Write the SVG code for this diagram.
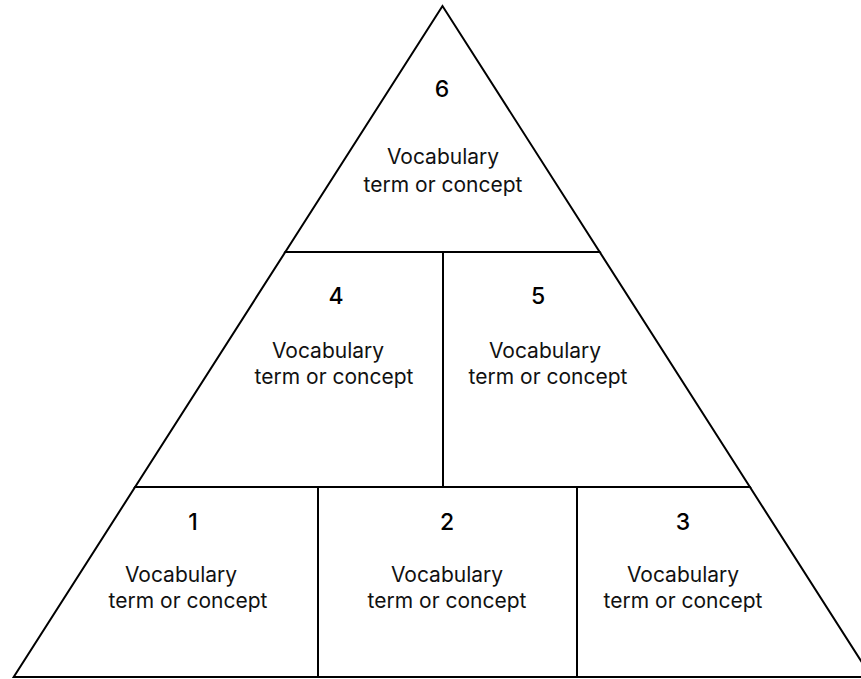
<svg xmlns="http://www.w3.org/2000/svg" width="861" height="679" viewBox="0 0 861 679">
<style>
.cell{fill:none;stroke:#000;stroke-width:2}
.num{font-family:Inter,"Liberation Sans",sans-serif;font-size:23px;font-weight:500;fill:#000;text-anchor:middle}
.lbl{font-family:Inter,"Liberation Sans",sans-serif;font-size:21px;font-weight:400;fill:#111;text-anchor:middle}
</style>
<rect width="861" height="679" fill="#fff"/>
<g id="node6">
<polygon class="cell" points="442.5,6 285.3,252 599.7,252"/>
<text class="num" x="442" y="97">6</text>
<text class="lbl" x="443" y="164">Vocabulary</text>
<text class="lbl" x="443" y="192">term or concept</text>
</g>
<g id="node4">
<polygon class="cell" points="285.3,252 443,252 443,487 135.1,487"/>
<text class="num" x="336" y="304">4</text>
<text class="lbl" x="328" y="358">Vocabulary</text>
<text class="lbl" x="334" y="384">term or concept</text>
</g>
<g id="node5">
<polygon class="cell" points="443,252 599.7,252 749.9,487 443,487"/>
<text class="num" x="538" y="304">5</text>
<text class="lbl" x="545" y="358">Vocabulary</text>
<text class="lbl" x="548" y="384">term or concept</text>
</g>
<g id="node1">
<polygon class="cell" points="135.1,487 318,487 318,677 13.7,677"/>
<text class="num" x="193" y="530">1</text>
<text class="lbl" x="181" y="582">Vocabulary</text>
<text class="lbl" x="188" y="608">term or concept</text>
</g>
<g id="node2">
<polygon class="cell" points="318,487 577,487 577,677 318,677"/>
<text class="num" x="447" y="530">2</text>
<text class="lbl" x="447" y="582">Vocabulary</text>
<text class="lbl" x="447" y="608">term or concept</text>
</g>
<g id="node3">
<polygon class="cell" points="577,487 749.9,487 871.3,677 577,677"/>
<text class="num" x="683" y="530">3</text>
<text class="lbl" x="683" y="582">Vocabulary</text>
<text class="lbl" x="683" y="608">term or concept</text>
</g>
<g id="connectors"></g>
</svg>
